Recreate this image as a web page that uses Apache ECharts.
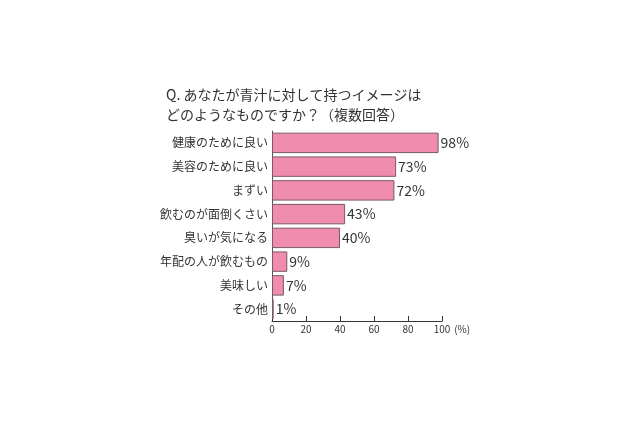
<!DOCTYPE html>
<html>
<head>
<meta charset="utf-8">
<script src="https://cdn.jsdelivr.net/npm/echarts@6/dist/echarts.min.js"></script>
<style>
  html, body { margin: 0; padding: 0; background: #fff; }
  #chart { width: 640px; height: 426px; }
</style>
</head>
<body>
<div id="chart"></div>
<script>
// 青汁のイメージ（複数回答）
const categories = ['健康のために良い', '美容のために良い', 'まずい', '飲むのが面倒くさい', '臭いが気になる', '年配の人が飲むもの', '美味しい', 'その他'];
const values = [98, 73, 72, 43, 40, 9, 7, 1];
const titleLines = ['Q. あなたが青汁に対して持つイメージは', 'どのようなものですか？（複数回答）'];

const chart = echarts.init(document.getElementById('chart'));
chart.setOption({
    animation: false,
    textStyle: {fontFamily: '"Noto Sans CJK JP", sans-serif'},
    title: {
        text: titleLines.join('\n'),
        left: 161,
        top: 80,
        textStyle: {
            fontSize: 14,
            fontWeight: 'normal',
            color: '#333',
            lineHeight: 20
        }
    },
    grid: {left: 272, right: 198, top: 131, bottom: 105},
    xAxis: {
        type: 'value',
        min: 0,
        max: 100,
        interval: 20,
        name: '(%)',
        nameLocation: 'end',
        nameGap: 8,
        nameTextStyle: {fontSize: 10, color: '#333', verticalAlign: 'top', padding: [3, 0, 0, 0]},
        axisLine: {show: true, lineStyle: {color: '#333'}},
        axisTick: {show: true, inside: true, length: 5, lineStyle: {color: '#333'}},
        axisLabel: {fontSize: 10, color: '#333', margin: 3},
        splitLine: {show: false}
    },
    yAxis: {
        type: 'category',
        data: categories,
        inverse: true,
        axisLine: {show: true, lineStyle: {color: '#555'}},
        axisTick: {show: false},
        axisLabel: {fontSize: 12, color: '#333', margin: 4}
    },
    series: [{
        type: 'bar',
        data: values,
        barCategoryGap: '14%',
        itemStyle: {color: '#F08CAE', borderColor: '#7a5a66', borderWidth: 1},
        label: {
            show: true,
            position: 'right',
            distance: 2,
            formatter: '{c}%',
            fontSize: 14,
            color: '#333'
        }
    }]
});
</script>
</body>
</html>
